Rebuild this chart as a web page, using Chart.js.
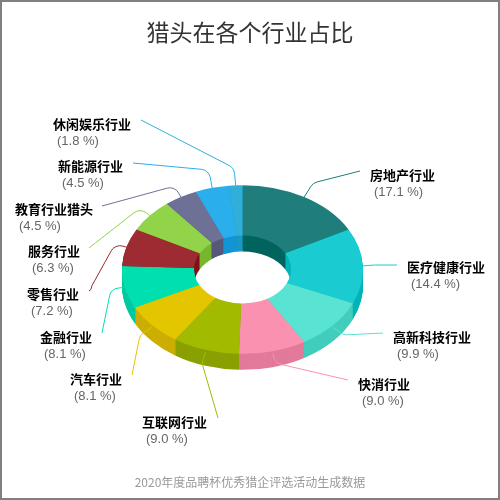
<!DOCTYPE html>
<html>
<head>
<meta charset="utf-8">
<style>
  html, body { margin: 0; padding: 0; background: #fff; overflow: hidden; }
  #wrap { position: relative; width: 500px; height: 500px; }
  #frame { position: absolute; left: 0; top: 0; width: 496px; height: 496px; border: 2px solid #808080; }
  canvas { display: block; }
</style>
<script src="https://cdn.jsdelivr.net/npm/chart.js@4"></script>
</head>
<body>
<div id="wrap">
  <canvas id="myChart" width="500" height="500"></canvas>
  <div id="frame"></div>
</div>
<script>
// data, clockwise from 12 o'clock
const categories = ['房地产行业', '医疗健康行业', '高新科技行业', '快消行业', '互联网行业', '汽车行业',
  '金融行业', '零售行业', '服务行业', '教育行业猎头', '新能源行业', '休闲娱乐行业'];
const shares = [17.1, 14.4, 9.9, 9.0, 9.0, 8.1, 8.1, 7.2, 6.3, 4.5, 4.5, 1.8];
const topColors = ['#1f7d7b', '#1acbd1', '#58e3d3', '#fb91b1', '#a2ba00', '#e3c500',
  '#00e0ae', '#9e2a32', '#91d449', '#6e7095', '#2aaeec', '#32afd9'];
const wallColors = ['#00645f', '#00b4b8', '#42cdbc', '#e27a9b', '#8aa000', '#cbae00',
  '#00c8a0', '#80101a', '#78b62e', '#56587c', '#1296d4', '#1a98c2'];
const titleText = '猎头在各个行业占比';
const footerText = '2020年度品聘杯优秀猎企评选活动生成数据';

// where the labels sit: [text left, text middle, elbow x, elbow y, line end x, line end y]
const labelLayout = [
  [370, 175, 313, 183, 360, 171],
  [407, 267, 375, 265, 397, 265],
  [393, 337, 343, 335, 383, 333],
  [358, 384, 275, 363, 348, 380],
  [142, 422, 202, 363, 218, 418],
  [70, 379, 140, 335, 132, 375],
  [40, 337, 111, 289, 102, 333],
  [27, 294, 115, 244, 89, 291],
  [28, 251, 140, 208, 89, 248],
  [15, 209, 175, 186, 102, 206],
  [58, 166, 209, 170, 133, 163],
  [53, 124, 234, 168, 141, 120]
];

// tilted ring: squash the round doughnut and extrude it downward
const ringX = 242.5, ringY = 269.5, squash = 0.7, depth = 16;

const ring3d = {
  id: 'ring3d',
  beforeDatasetsDraw(chart) {
    const ctx = chart.ctx;
    const arcs = chart.getDatasetMeta(0).data;
    const place = (arc, dy) => {
      ctx.translate(ringX, ringY + dy);
      ctx.scale(1, squash);
      ctx.translate(-arc.x, -arc.y);
    };
    for (let d = depth; d >= 1; d--) {
      arcs.forEach((arc, i) => {
        const realOptions = arc.options;
        arc.options = Object.create(realOptions, { backgroundColor: { value: wallColors[i] } });
        ctx.save();
        place(arc, d);
        arc.draw(ctx);
        ctx.restore();
        arc.options = realOptions;
      });
    }
    arcs.forEach(arc => {
      ctx.save();
      place(arc, 0);
      arc.draw(ctx);
      ctx.restore();
    });
    return false; // already drawn
  },
  afterDraw(chart) {
    const ctx = chart.ctx;
    chart.getDatasetMeta(0).data.forEach((arc, i) => {
      const [textX, textY, elbowX, elbowY, endX, endY] = labelLayout[i];
      const mid = (arc.startAngle + arc.endAngle) / 2;
      const startX = ringX + arc.outerRadius * Math.cos(mid);
      const startY = ringY + arc.outerRadius * squash * Math.sin(mid) + (Math.sin(mid) > 0.3 ? 2 : 0);

      ctx.save();
      ctx.strokeStyle = topColors[i];
      ctx.lineWidth = 1;
      ctx.beginPath();
      ctx.moveTo(startX, startY);
      ctx.arcTo(elbowX, elbowY, endX, endY, 10);
      // lines dropping down-left finish with a small hook towards the label
      if (Math.abs(endY - elbowY) > Math.abs(endX - elbowX) && endX < elbowX) {
        const stopX = endX + (elbowX - endX) * 0.12;
        const stopY = endY + (elbowY - endY) * 0.12;
        ctx.lineTo(stopX, stopY);
        ctx.quadraticCurveTo(stopX - 1, endY, endX, endY);
      } else {
        ctx.lineTo(endX, endY);
      }
      ctx.stroke();

      ctx.textAlign = 'left';
      ctx.textBaseline = 'middle';
      ctx.fillStyle = '#000';
      ctx.font = 'bold 13px "Noto Sans CJK SC"';
      ctx.fillText(categories[i], textX, textY);
      ctx.fillStyle = '#666';
      ctx.font = '13px "Liberation Sans"';
      ctx.fillText('(' + shares[i].toFixed(1) + ' %)', textX + 4, textY + 17);
      ctx.restore();
    });
  }
};

const myChart = new Chart(document.getElementById('myChart'), {
  type: 'doughnut',
  data: {
    labels: categories,
    datasets: [{
      data: shares,
      backgroundColor: topColors,
      borderWidth: 0
    }]
  },
  options: {
    responsive: false,
    animation: false,
    events: [],
    radius: 120.5,
    cutout: '40.25%',
    plugins: {
      legend: { display: false },
      tooltip: { enabled: false },
      title: {
        display: true,
        text: titleText,
        color: '#333',
        font: { family: '"Noto Sans CJK SC"', size: 23, weight: 'normal' },
        padding: { top: 18, bottom: 10 }
      },
      subtitle: {
        display: true,
        position: 'bottom',
        text: footerText,
        color: '#999',
        font: { family: '"Noto Sans CJK SC"', size: 12, weight: 'normal' },
        padding: { top: 4, bottom: 10 }
      }
    }
  },
  plugins: [ring3d]
});
</script>
</body>
</html>
